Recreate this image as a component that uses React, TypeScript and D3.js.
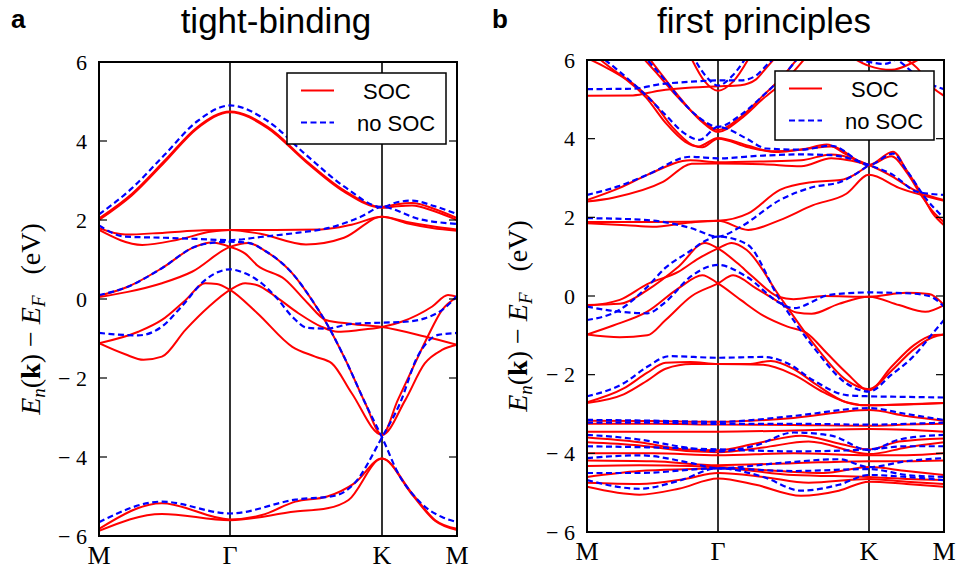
import React from 'react';
import * as d3 from 'd3';

// k-path coordinate: 0 = M, 1 = Γ, 2 = K, 3 = M (fractions go along each segment)
const kNodes = [0, 1, 2, 3];
const kLabels = ['M', 'Γ', 'K', 'M'];
const energyTicks = [-6, -4, -2, 0, 2, 4, 6];
const legendLabels = ['SOC', 'no SOC'];

type Band = [number, number][];

// ---------- (a) tight-binding, with SOC ----------
const tbSoc: Band[] = [
  [[0, 2.04], [0.25, 2.66], [0.5, 3.5], [0.75, 4.35], [1, 4.75], [1.25, 4.35], [1.5, 3.5], [1.75, 2.75], [2, 2.33], [2.2, 2.4], [2.4, 2.43], [2.7, 2.28], [3, 2.05]],
  [[0, 2.0], [0.25, 2.62], [0.5, 3.46], [0.75, 4.32], [1, 4.73], [1.25, 4.32], [1.5, 3.47], [1.75, 2.72], [2, 2.31], [2.2, 2.35], [2.4, 2.37], [2.7, 2.22], [3, 2.0]],
  [[0, 1.79], [0.2, 1.63], [0.5, 1.68], [0.8, 1.74], [1, 1.75], [1.3, 1.75], [1.6, 1.76], [1.8, 1.88], [2, 2.08], [2.33, 1.95], [2.67, 1.84], [3, 1.76]],
  [[0, 1.75], [0.33, 1.37], [0.6, 1.5], [0.85, 1.7], [1, 1.75], [1.2, 1.65], [1.5, 1.38], [1.75, 1.55], [2, 2.08], [2.33, 1.92], [2.67, 1.8], [3, 1.73]],
  [[0, 0.08], [0.22, 0.31], [0.48, 0.78], [0.73, 1.32], [0.86, 1.43], [1, 1.32], [1.1, 1.15], [1.18, 0.85], [1.36, 0.5], [1.51, -0.1], [1.63, -0.53], [1.8, -0.63], [2, -0.71], [2.57, -0.95], [3, -1.16]],
  [[0, 0.05], [0.22, 0.18], [0.48, 0.4], [0.71, 0.69], [1, 1.32], [1.12, 1.42], [1.23, 1.22], [1.41, 0.65], [1.54, -0.03], [1.63, -0.58], [1.76, -1.54], [1.89, -2.64], [2, -3.44], [2.21, -2.56], [2.44, -1.63], [2.61, -0.95], [2.8, -0.28], [3, 0.05]],
  [[0, -1.12], [0.3, -0.83], [0.48, -0.53], [0.66, -0.03], [0.81, 0.4], [0.9, 0.38], [1, 0.23], [1.18, -0.36], [1.41, -1.21], [1.56, -1.46], [1.67, -1.63], [1.8, -2.38], [2, -3.44], [2.31, -2.56], [2.57, -1.63], [2.8, -1.29], [3, -1.16]],
  [[0, -1.12], [0.2, -1.4], [0.34, -1.54], [0.48, -1.46], [0.66, -0.78], [0.84, -0.19], [1, 0.23], [1.1, 0.4], [1.18, 0.35], [1.3, 0.06], [1.45, -0.36], [1.6, -0.7], [1.71, -0.83], [1.84, -0.79], [2, -0.71], [2.27, -0.57], [2.67, -0.19], [2.88, 0.1], [3, 0.05]],
  [[0, -5.82], [0.48, -5.17], [1, -5.58], [1.21, -5.47], [1.43, -5.13], [1.64, -5.0], [1.82, -4.66], [2, -4.04], [2.4, -4.92], [2.71, -5.6], [3, -5.82]],
  [[0, -5.87], [0.48, -5.44], [1, -5.6], [1.43, -5.38], [1.64, -5.3], [1.78, -5.09], [2, -4.04], [2.4, -4.95], [2.71, -5.62], [3, -5.85]],
];

// ---------- (a) tight-binding, no SOC ----------
const tbNoSoc: Band[] = [
  [[0, 2.14], [0.25, 2.8], [0.5, 3.65], [0.75, 4.5], [1, 4.9], [1.25, 4.5], [1.5, 3.65], [1.75, 2.85], [2, 2.33], [2.2, 2.45], [2.4, 2.49], [2.7, 2.35], [3, 2.15]],
  [[0, 1.86], [0.2, 1.58], [0.5, 1.55], [0.75, 1.52], [1, 1.49], [1.2, 1.57], [1.45, 1.68], [1.65, 1.8], [1.86, 2.08], [2, 2.33], [2.5, 2.02], [3, 1.9]],
  [[0, 0.1], [0.22, 0.31], [0.48, 0.78], [0.73, 1.32], [0.86, 1.42], [1, 1.45], [1.12, 1.42], [1.23, 1.22], [1.41, 0.65], [1.54, -0.03], [1.63, -0.58], [1.76, -1.54], [1.89, -2.64], [2, -3.5], [2.24, -4.5], [2.4, -4.92], [2.6, -5.3], [2.8, -5.52], [3, -5.65]],
  [[0, -0.86], [0.3, -0.92], [0.48, -0.7], [0.63, -0.19], [0.81, 0.48], [1, 0.75], [1.1, 0.65], [1.18, 0.48], [1.3, 0.06], [1.41, -0.45], [1.51, -0.73], [1.63, -0.75], [1.8, -0.63], [2, -0.6], [2.35, -0.57], [2.57, -0.49], [2.8, -0.28], [3, 0.08]],
  [[0, -5.65], [0.48, -5.13], [1, -5.43], [1.43, -5.08], [1.69, -4.98], [1.82, -4.66], [2, -3.5], [2.24, -2.64], [2.47, -1.47], [2.6, -1.1], [2.75, -0.91], [3, -0.86]],
];

// ---------- (b) first principles, with SOC ----------
const fpSocUpper: Band[] = [
  [[0.78, 6.15], [0.9, 5.45], [1, 5.22], [1.1, 5.45], [1.22, 6.15]],
  [[0, 5.09], [0.35, 5.1], [0.55, 5.22], [0.8, 5.3], [1, 5.33], [1.15, 5.36], [1.25, 5.5], [1.32, 5.8], [1.4, 6.15]],
  [[0.4, 6.15], [0.55, 5.6], [0.68, 5.1], [0.83, 4.6], [1, 4.22], [1.15, 4.55], [1.3, 5.1], [1.42, 5.55], [1.55, 6.15]],
  [[0.45, 6.15], [0.6, 5.5], [0.72, 5.0], [0.87, 4.45], [1, 4.17], [1.15, 4.5], [1.3, 5.02], [1.45, 5.5], [1.6, 6.15]],
  [[0, 6.05], [0.15, 5.8], [0.3, 5.5], [0.45, 5.05], [0.6, 4.4], [0.75, 3.92], [0.85, 3.8], [1, 4.02], [1.2, 3.82], [1.35, 3.68], [1.55, 3.72], [1.72, 3.85], [1.85, 3.6], [2, 3.33], [2.32, 3.67], [2.5, 3.2], [2.7, 2.6], [2.85, 2.1], [3, 1.8]],
  [[0.05, 6.15], [0.2, 5.75], [0.35, 5.4], [0.5, 4.95], [0.65, 4.3], [0.8, 3.85], [0.88, 3.78], [1, 4.0], [1.2, 3.78], [1.4, 3.66], [1.6, 3.75], [1.75, 3.8], [2, 3.33], [2.3, 3.55], [2.5, 3.15], [2.7, 2.55], [2.85, 2.15], [3, 1.88]],
  [[0, 2.44], [0.25, 2.75], [0.46, 3.08], [0.79, 3.45], [1, 3.4], [1.3, 3.42], [1.55, 3.45], [1.75, 3.6], [2, 3.33], [2.3, 3.05], [2.6, 2.7], [3, 2.44]],
  [[0, 2.4], [0.2, 2.5], [0.58, 2.9], [0.8, 3.36], [1, 3.37], [1.3, 3.35], [1.55, 3.3], [1.75, 3.5], [2, 3.33]],
  [[0, 1.88], [0.46, 1.88], [0.79, 1.89], [1, 1.91], [1.2, 2.1], [1.41, 2.7], [1.63, 2.9], [1.81, 2.95], [2, 3.33]],
  [[0, 1.85], [0.3, 1.8], [0.5, 1.76], [0.79, 1.87], [1, 1.91], [1.2, 1.68], [1.41, 1.93], [1.63, 2.31], [1.85, 2.6], [2, 3.08], [2.4, 2.75], [3, 2.42]],
  [[2.3, 6.2], [2.64, 5.8], [2.85, 5.3], [3, 5.09]],
  [[1.85, 6.15], [2, 5.85], [2.3, 5.75], [2.6, 5.95], [2.8, 6.15]],
];

const fpSocMiddle: Band[] = [
  [[0, -0.23], [0.25, -0.2], [0.46, 0.15], [0.7, 0.75], [0.9, 1.35], [1, 1.21], [1.13, 0.83], [1.23, 0.49], [1.4, -0.02], [1.5, -0.08], [1.7, 0.0], [2, -0.02], [2.5, 0.08], [2.8, 0.05], [3, -0.23]],
  [[0, -0.25], [0.25, -0.1], [0.46, 0.3], [0.7, 0.62], [0.85, 0.95], [1, 1.21], [1.09, 1.35], [1.19, 1.17], [1.41, -0.02], [1.63, -1.2], [1.85, -2.14], [2, -2.37], [2.3, -1.9], [2.6, -1.35], [2.85, -1.05], [3, -0.98]],
  [[0, -0.98], [0.2, -0.75], [0.46, -0.4], [0.7, 0.2], [0.88, 0.53], [1, 0.32], [1.15, -0.1], [1.3, -0.5], [1.46, -0.78], [1.59, -0.95], [1.72, -1.45], [1.85, -1.95], [2, -2.4], [2.3, -1.8], [2.6, -1.25], [2.85, -1.0], [3, -0.98]],
  [[0, -0.98], [0.25, -1.05], [0.46, -1.0], [0.6, -0.61], [0.8, 0.0], [1, 0.32], [1.1, 0.53], [1.25, 0.2], [1.4, -0.15], [1.52, -0.42], [1.62, -0.45], [1.8, -0.2], [2, -0.02], [2.4, -0.23], [2.75, -0.4], [3, -0.23]],
  [[0, -2.7], [0.28, -2.35], [0.46, -1.95], [0.6, -1.7], [0.79, -1.68], [1, -1.73], [1.2, -1.73], [1.35, -1.65], [1.5, -1.85], [1.65, -2.25], [1.85, -2.7], [2, -2.78], [2.5, -2.75], [3, -2.72]],
  [[0, -2.72], [0.28, -2.5], [0.46, -2.15], [0.6, -1.85], [0.8, -1.73], [1, -1.73], [1.3, -1.75], [1.5, -2.0], [1.7, -2.45], [1.9, -2.75], [2, -2.78], [2.5, -2.76], [3, -2.72]],
];

const fpSocCore: Band[] = [
  [[0, -3.17], [0.5, -3.18], [1, -3.2], [1.5, -3.1], [2, -2.9], [2.5, -3.05], [3, -3.17]],
  [[0, -3.25], [0.5, -3.25], [1, -3.27], [1.5, -3.28], [2, -3.3], [2.5, -3.27], [3, -3.25]],
  [[0, -3.45], [0.5, -3.45], [1, -3.45], [1.5, -3.42], [2, -3.38], [2.5, -3.4], [3, -3.45]],
  [[0, -3.6], [0.4, -3.72], [0.75, -3.9], [1, -3.92], [1.25, -3.75], [1.55, -3.55], [1.8, -3.75], [2, -3.9], [2.4, -3.7], [3, -3.62]],
  [[0, -3.72], [0.4, -3.8], [0.8, -3.95], [1, -3.97], [1.3, -3.85], [1.6, -3.7], [2, -4.02], [2.5, -3.85], [3, -3.72]],
  [[0, -4.0], [0.5, -4.0], [1, -4.05], [1.5, -4.0], [2, -4.05], [2.5, -4.05], [3, -4.0]],
  [[0, -4.18], [0.5, -4.2], [1, -4.3], [1.5, -4.25], [2, -4.2], [2.5, -4.2], [3, -4.18]],
  [[0, -4.32], [0.4, -4.3], [0.8, -4.32], [1, -4.35], [1.4, -4.45], [1.7, -4.5], [2, -4.35], [2.5, -4.45], [3, -4.55]],
  [[0, -4.6], [0.4, -4.45], [0.8, -4.4], [1, -4.38], [1.5, -4.55], [2, -4.6], [2.5, -4.65], [3, -4.68]],
  [[0, -4.75], [0.4, -4.78], [0.75, -4.65], [1, -4.5], [1.3, -4.6], [1.6, -4.75], [2, -4.65], [2.5, -4.72], [3, -4.78]],
  [[0, -4.85], [0.4, -5.05], [0.7, -4.9], [1, -4.64], [1.25, -4.8], [1.55, -5.08], [1.8, -4.95], [2, -4.72], [2.5, -4.78], [3, -4.85]],
];

// ---------- (b) first principles, no SOC ----------
const fpNoSocUpper: Band[] = [
  [[0.8, 6.15], [0.9, 5.62], [1, 5.35], [1.1, 5.62], [1.2, 6.15]],
  [[0, 5.26], [0.35, 5.27], [0.55, 5.38], [0.8, 5.45], [1, 5.48], [1.15, 5.48], [1.25, 5.6], [1.33, 5.9], [1.4, 6.15]],
  [[0.42, 6.15], [0.58, 5.55], [0.7, 5.05], [0.85, 4.55], [1, 4.3], [1.15, 4.6], [1.3, 5.1], [1.42, 5.55], [1.55, 6.15]],
  [[0.08, 6.15], [0.25, 5.7], [0.45, 5.1], [0.6, 4.6], [0.75, 4.12], [0.86, 3.97], [1, 4.3], [1.06, 4.25], [1.19, 4.0], [1.32, 3.75], [1.55, 3.72], [1.75, 3.82], [2, 3.33], [2.32, 3.62], [2.5, 3.2], [2.75, 2.5], [3, 1.98]],
  [[0, 2.57], [0.25, 2.8], [0.46, 3.08], [0.79, 3.54], [1, 3.5], [1.3, 3.57], [1.55, 3.6], [1.75, 3.58], [2, 3.33], [2.32, 3.08], [2.64, 2.65], [3, 2.57]],
  [[0, 1.98], [0.46, 1.93], [0.79, 1.73], [1, 1.51], [1.15, 1.76], [1.41, 2.44], [1.63, 2.77], [1.81, 2.9], [2, 3.33]],
  [[2.2, 6.2], [2.41, 5.96], [2.7, 5.5], [3, 5.26]],
  [[1.8, 6.15], [2, 5.95], [2.2, 5.9], [2.45, 6.15]],
];

const fpNoSocMiddle: Band[] = [
  [[0, -0.61], [0.25, -0.35], [0.45, 0.2], [0.6, 0.72], [0.79, 1.15], [0.9, 1.4], [1, 1.51], [1.19, 1.32], [1.41, -0.1], [1.63, -1.29], [1.85, -2.22], [2, -2.43], [2.3, -2.0], [2.59, -1.54], [2.85, -0.95], [3, -0.61]],
  [[0, -0.27], [0.25, -0.4], [0.46, -0.44], [0.6, -0.15], [0.79, 0.49], [1, 0.79], [1.19, 0.49], [1.41, -0.18], [1.5, -0.31], [1.74, 0.03], [2, 0.09], [2.5, 0.07], [2.8, 0.0], [3, -0.27]],
  [[0, -2.55], [0.28, -2.22], [0.46, -1.8], [0.63, -1.53], [1, -1.57], [1.3, -1.55], [1.46, -1.71], [1.63, -2.14], [1.85, -2.52], [2, -2.55], [2.3, -2.56], [3, -2.58]],
];

const fpNoSocCore: Band[] = [
  [[0, -3.15], [0.5, -3.17], [1, -3.2], [1.5, -3.05], [2, -2.85], [2.5, -3.0], [3, -3.15]],
  [[0, -3.22], [0.5, -3.22], [1, -3.25], [1.5, -3.25], [2, -3.27], [2.5, -3.25], [3, -3.22]],
  [[0, -3.53], [0.4, -3.65], [0.75, -3.85], [1, -3.95], [1.25, -3.8], [1.5, -3.47], [1.75, -3.55], [2, -3.92], [2.4, -3.65], [3, -3.53]],
  [[0, -3.82], [0.5, -3.85], [1, -3.9], [1.5, -3.95], [2, -3.9], [2.5, -3.82], [3, -3.82]],
  [[0, -4.12], [0.4, -4.05], [0.8, -4.25], [1, -4.38], [1.4, -4.25], [1.8, -4.15], [2, -4.35], [2.5, -4.2], [3, -4.12]],
  [[0, -4.5], [0.4, -4.5], [1, -4.38], [1.5, -4.45], [2, -4.4], [2.5, -4.55], [3, -4.6]],
  [[0, -4.68], [0.4, -4.9], [0.7, -4.7], [1, -4.38], [1.3, -4.6], [1.55, -4.95], [1.8, -4.8], [2, -4.55], [2.5, -4.6], [3, -4.68]],
];

const serif = '"Liberation Serif", "Times New Roman", "DejaVu Serif", serif';
const sans = '"Liberation Sans", Arial, Helvetica, sans-serif';

const fmtTick = (v: number) => (v < 0 ? `\u2212 ${Math.abs(v)}` : `${v}`);

type Frame = { nodes: number[]; top: number; bottom: number };
type Box = { x: number; y: number; w: number; h: number };

function BandPanel(props: {
  id: string;
  frame: Frame;
  title: string;
  titleX: number;
  letter: string;
  letterX: number;
  labelX: number;
  soc: Band[];
  noSoc: Band[];
  legend: Box;
}) {
  const { id, frame, soc, noSoc, legend } = props;
  const left = frame.nodes[0];
  const right = frame.nodes[3];

  // piecewise linear scale along the k-path
  const x = d3.scaleLinear().domain(kNodes).range(frame.nodes);
  const y = d3.scaleLinear().domain([-6, 6]).range([frame.bottom, frame.top]);
  const line = d3
    .line<[number, number]>()
    .x((d) => x(d[0]))
    .y((d) => y(d[1]))
    .curve(d3.curveMonotoneX);

  const labelY = (frame.top + frame.bottom) / 2 + 20;

  return (
    <g>
      <defs>
        <clipPath id={id}>
          <rect x={left} y={frame.top} width={right - left} height={frame.bottom - frame.top} />
        </clipPath>
      </defs>

      <text x={props.letterX} y={28} fontFamily={sans} fontWeight="bold" fontSize={26}>
        {props.letter}
      </text>
      <text x={props.titleX} y={33} fontFamily={sans} fontSize={35} textAnchor="middle">
        {props.title}
      </text>

      {/* Γ and K markers */}
      {kNodes.slice(1, 3).map((k) => (
        <line key={k} x1={x(k)} x2={x(k)} y1={frame.top} y2={frame.bottom} stroke="#000" strokeWidth={1.6} />
      ))}

      <g clipPath={`url(#${id})`} fill="none">
        {soc.map((b, i) => (
          <path key={'s' + i} d={line(b) || ''} stroke="#ff0000" strokeWidth={2} />
        ))}
        {noSoc.map((b, i) => (
          <path key={'n' + i} d={line(b) || ''} stroke="#0000ff" strokeWidth={2.2} strokeDasharray="6,3.5" />
        ))}
      </g>

      {/* y ticks, inward on both sides */}
      {energyTicks.map((v) => (
        <g key={v}>
          <line x1={left} x2={left + 8} y1={y(v)} y2={y(v)} stroke="#000" strokeWidth={1.2} />
          <line x1={right - 8} x2={right} y1={y(v)} y2={y(v)} stroke="#000" strokeWidth={1.2} />
          <text x={left - 12} y={y(v)} dy="0.35em" textAnchor="end" fontFamily={serif} fontSize={22}>
            {fmtTick(v)}
          </text>
        </g>
      ))}

      {kLabels.map((lab, i) => (
        <text key={i} x={x(kNodes[i])} y={frame.bottom + 28} textAnchor="middle" fontFamily={serif} fontSize={26}>
          {lab}
        </text>
      ))}

      <rect x={left} y={frame.top} width={right - left} height={frame.bottom - frame.top} fill="none" stroke="#000" strokeWidth={2} />

      {/* y label */}
      <text
        transform={`translate(${props.labelX},${labelY}) rotate(-90)`}
        textAnchor="middle"
        fontFamily={serif}
        fontSize={28}
        style={{ whiteSpace: 'pre' }}
      >
        <tspan fontStyle="italic">E</tspan>
        <tspan fontStyle="italic" fontSize={19} dy={5}>n</tspan>
        <tspan dy={-5}>(</tspan>
        <tspan fontWeight="bold">k</tspan>
        <tspan>{') \u2212 '}</tspan>
        <tspan fontStyle="italic">E</tspan>
        <tspan fontStyle="italic" fontSize={19} dy={5}>F</tspan>
        <tspan dy={-5}>{'   (eV)'}</tspan>
      </text>

      {/* legend */}
      <g>
        <rect x={legend.x} y={legend.y} width={legend.w} height={legend.h} fill="#fff" stroke="#000" strokeWidth={1.5} />
        <line x1={legend.x + 14} x2={legend.x + 47} y1={legend.y + 17.5} y2={legend.y + 17.5} stroke="#ff0000" strokeWidth={2} />
        <text x={legend.x + 76} y={legend.y + 26} fontFamily={sans} fontSize={22}>
          {legendLabels[0]}
        </text>
        <line x1={legend.x + 14} x2={legend.x + 47} y1={legend.y + 49.5} y2={legend.y + 49.5} stroke="#0000ff" strokeWidth={2.2} strokeDasharray="6,3.5" />
        <text x={legend.x + 70} y={legend.y + 58} fontFamily={sans} fontSize={22}>
          {legendLabels[1]}
        </text>
      </g>
    </g>
  );
}

export default function App() {
  return (
    <svg width={958} height={571} style={{ position: 'absolute', left: 0, top: 0, background: '#fff' }}>
      <rect width={958} height={571} fill="#fff" />
      <BandPanel
        id="clipA"
        frame={{ nodes: [99, 230, 382, 457], top: 62, bottom: 536 }}
        title="tight-binding"
        titleX={276}
        letter="a"
        letterX={11}
        labelX={40}
        soc={tbSoc}
        noSoc={tbNoSoc}
        legend={{ x: 287, y: 73, w: 159, h: 71 }}
      />
      <BandPanel
        id="clipB"
        frame={{ nodes: [587, 718, 869, 944], top: 60, bottom: 532 }}
        title="first principles"
        titleX={764}
        letter="b"
        letterX={492}
        labelX={527}
        soc={[...fpSocUpper, ...fpSocMiddle, ...fpSocCore]}
        noSoc={[...fpNoSocUpper, ...fpNoSocMiddle, ...fpNoSocCore]}
        legend={{ x: 775, y: 71, w: 159, h: 69 }}
      />
    </svg>
  );
}
